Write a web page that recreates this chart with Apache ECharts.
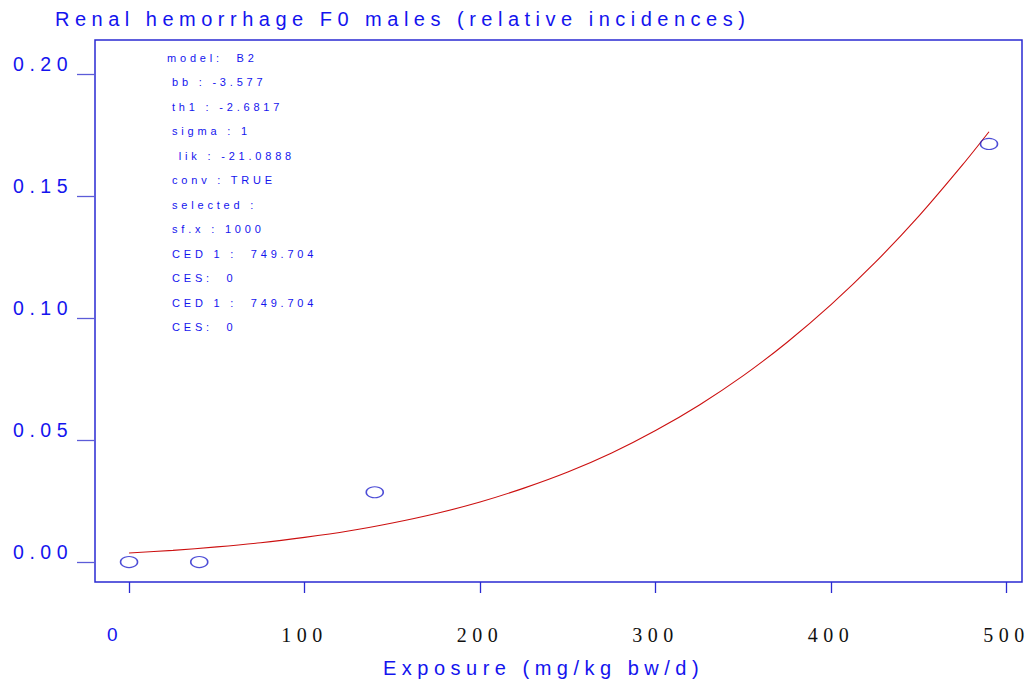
<!DOCTYPE html>
<html>
<head>
<meta charset="utf-8">
<script src="https://cdn.jsdelivr.net/npm/echarts@6/dist/echarts.min.js"></script>
<style>
  html, body { margin: 0; padding: 0; background: #fff; }
  #chart { width: 1033px; height: 683px; }
  #chart text { letter-spacing: 5.5px; }
</style>
</head>
<body>
<div id="chart"></div>
<script>
// Observed relative incidences per dose group
const doses = [0, 40, 140, 490];
const incidences = [0, 0, 0.0286, 0.1714];

// Fitted dose-response curve (exposure, response)
const curveX = [0, 25, 50, 75, 100, 125, 150, 175, 200, 225, 250, 275, 300, 325, 350, 375, 400, 425, 450, 475, 490];
const curveY = [0.0037, 0.0048, 0.0062, 0.0079, 0.0101, 0.0127, 0.0160, 0.0199, 0.0246, 0.0303, 0.0369, 0.0447, 0.0539, 0.0644, 0.0764, 0.0901, 0.1055, 0.1227, 0.1418, 0.1629, 0.1764];

// Axis ticks
const xTicks = [0, 100, 200, 300, 400, 500];
const yTicks = [0, 0.05, 0.10, 0.15, 0.20];

// Fit summary printed inside the plot
const fitInfo = ['model:  B2', 'bb : -3.577', 'th1 : -2.6817', 'sigma : 1', ' lik : -21.0888', 'conv : TRUE',
  'selected :', 'sf.x : 1000', 'CED 1 :  749.704', 'CES:  0', 'CED 1 :  749.704', 'CES:  0'];

const titleText = 'Renal hemorrhage F0 males (relative incidences)';
const xName = 'Exposure (mg/kg bw/d)';

const BLUE = '#1414ee';
const FRAME = '#2a2ad2';
const TICK = '#5c5cd8';
const SANS = '"Liberation Sans", Arial, sans-serif';
const SERIF = '"Liberation Serif", "Times New Roman", serif';

const chartEl = document.getElementById('chart');
const chart = echarts.init(chartEl, null, { renderer: 'svg' });

const infoGraphics = fitInfo.map((t, i) => ({
  type: 'text',
  left: i === 0 ? 167 : 172,
  top: 52 + i * 24.5,
  style: { text: t, fill: BLUE, font: '11px ' + SANS }
}));

chart.setOption({
  animation: false,
  backgroundColor: '#ffffff',
  title: {
    text: titleText,
    left: 50,
    top: 4,
    textStyle: { color: BLUE, fontSize: 20, fontWeight: 'normal', fontFamily: SANS }
  },
  grid: {
    left: 95, right: 11, top: 40, bottom: 100,
    show: true, borderColor: FRAME, borderWidth: 1.5, backgroundColor: 'transparent'
  },
  xAxis: {
    type: 'value',
    min: -19.4, max: 508.8,
    axisLine: { show: false, onZero: false },
    splitLine: { show: false },
    axisTick: { show: true, inside: false, length: 11, customValues: xTicks, lineStyle: { color: FRAME, width: 1.3 } },
    axisLabel: {
      customValues: xTicks,
      margin: 43,
      formatter: v => v === 0 ? '{z|0}' : '{n|' + v + '}',
      rich: {
        z: { color: BLUE, fontSize: 19, fontFamily: SANS, padding: [0, 28, 0, 0] },
        n: { color: '#111', fontSize: 20, fontFamily: SERIF }
      }
    },
    name: xName,
    nameLocation: 'middle',
    nameGap: 76,
    nameTextStyle: { color: BLUE, fontSize: 20, fontFamily: SANS, padding: [0, 30, 0, 0] }
  },
  yAxis: {
    type: 'value',
    min: -0.00818, max: 0.2140,
    axisLine: { show: false, onZero: false },
    splitLine: { show: false },
    axisTick: { show: true, inside: false, length: 18, customValues: yTicks, lineStyle: { color: TICK, width: 1.3 } },
    axisLabel: {
      customValues: yTicks,
      margin: 22,
      color: BLUE,
      fontSize: 19.5,
      fontFamily: SANS,
      verticalAlign: 'bottom',
      formatter: v => v.toFixed(2)
    }
  },
  graphic: infoGraphics,
  series: [
    {
      type: 'line',
      data: curveX.map((x, i) => [x, curveY[i]]),
      smooth: 0.3,
      symbol: 'none',
      lineStyle: { color: '#cc1010', width: 1.1 },
      z: 2
    },
    {
      type: 'scatter',
      data: doses.map((d, i) => [d, incidences[i]]),
      symbol: 'circle',
      symbolSize: [17, 11],
      itemStyle: { color: 'rgba(0,0,0,0)', borderColor: '#2020cc', borderWidth: 1.3 },
      z: 3
    }
  ]
});

// Small annotation text uses tighter tracking than the axis text
function applyTracking() {
  chartEl.querySelectorAll('text').forEach(el => {
    const size = parseFloat(getComputedStyle(el).fontSize);
    if (size < 14) el.style.letterSpacing = '3.8px';
  });
}
applyTracking();
chart.on('finished', applyTracking);
</script>
</body>
</html>
